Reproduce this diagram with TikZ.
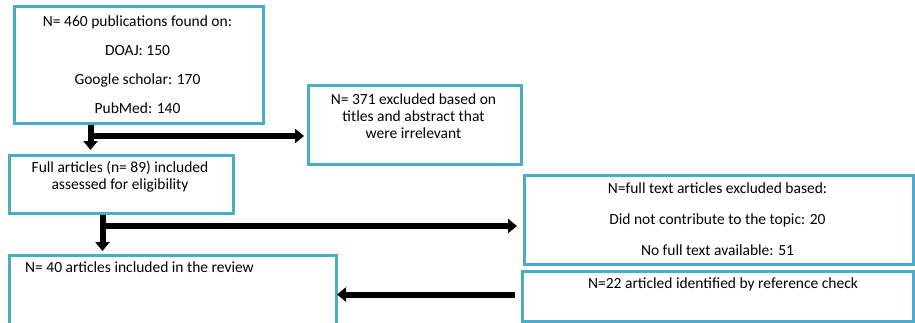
\documentclass[tikz,border=0pt]{standalone}
\usepackage{fontspec}
\setmainfont{Carlito}
\usetikzlibrary{arrows.meta,calc}
\definecolor{boxblue}{RGB}{75,172,198}
\tikzset{
  box/.style={draw=boxblue, line width=3pt, fill=white, anchor=north west, inner sep=0pt},
  txt/.style={font=\fontsize{15.5}{17}\selectfont, align=center, inner sep=0pt},
  flow/.style={line width=6pt, -{Triangle[width=14pt,length=9pt]}},
}
\begin{document}
\begin{tikzpicture}[x=1pt,y=-1pt]
		%%%%% START %%%%%
		\clip (0,0) rectangle (915,322);
		
		\node[box, minimum width=249pt, minimum height=117pt] (search) at (13,5) {};
		\node[box, minimum width=213pt, minimum height=79pt] (irrel) at (307,84) {};
		\node[box, minimum width=224pt, minimum height=58pt] (full) at (8,154) {};
		\node[box, minimum width=389pt, minimum height=89pt] (exclfull) at (523,174) {};
		\node[box, minimum width=391pt, minimum height=50pt] (refcheck) at (521,270) {};
		\node[box, minimum width=327pt, minimum height=100pt] (incl) at (8,254) {};
		
		\node[txt, font=\fontsize{15.5}{29}\selectfont] (searchtxt) at (137.5,64.5) {N= 460 publications found on:\\DOAJ: 150\\Google scholar: 170\\PubMed: 140};
		\node[txt] (irreltxt) at (413.5,116) {N= 371 excluded based on\\titles and abstract that\\were irrelevant};
		\node[txt] (fulltxt) at (120,176.5) {Full articles (n= 89) included\\assessed for eligibility};
		\node[txt, font=\fontsize{15.5}{31}\selectfont] (exclfulltxt) at (717.5,219) {N=full text articles excluded based:\\Did not contribute to the topic: 20\\No full text available: 51};
		\node[txt] (reftxt) at (723,284) {N=22 articled identified by reference check};
		\node[txt, anchor=west] (incltxt) at (25,267) {N= 40 articles included in the review};
		
		\coordinate (a1) at ($(search.south west)+(77.5,0)$);
		\coordinate (a1m) at ($(a1)+(0,11)$);
		\draw[flow, shorten >=4pt] (a1) -- (a1 |- full.north);
		\draw[flow, shorten >=3pt] (a1m) -- (a1m -| irrel.west);
		
		\coordinate (a2) at ($(full.south west)+(94.5,0)$);
		\coordinate (a2m) at ($(a2)+(0,11)$);
		\draw[flow, shorten >=3pt] (a2) -- (a2 |- incl.north);
		\draw[flow, shorten >=6pt] (a2m) -- (a2m -| exclfull.west);
		
		\coordinate (a3) at ($(refcheck.west)+(0,-2)$);
		\draw[flow, shorten <=6pt, shorten >=-1pt] (a3) -- (a3 -| incl.east);
		%%%%% END %%%%%
\end{tikzpicture}
\end{document}
